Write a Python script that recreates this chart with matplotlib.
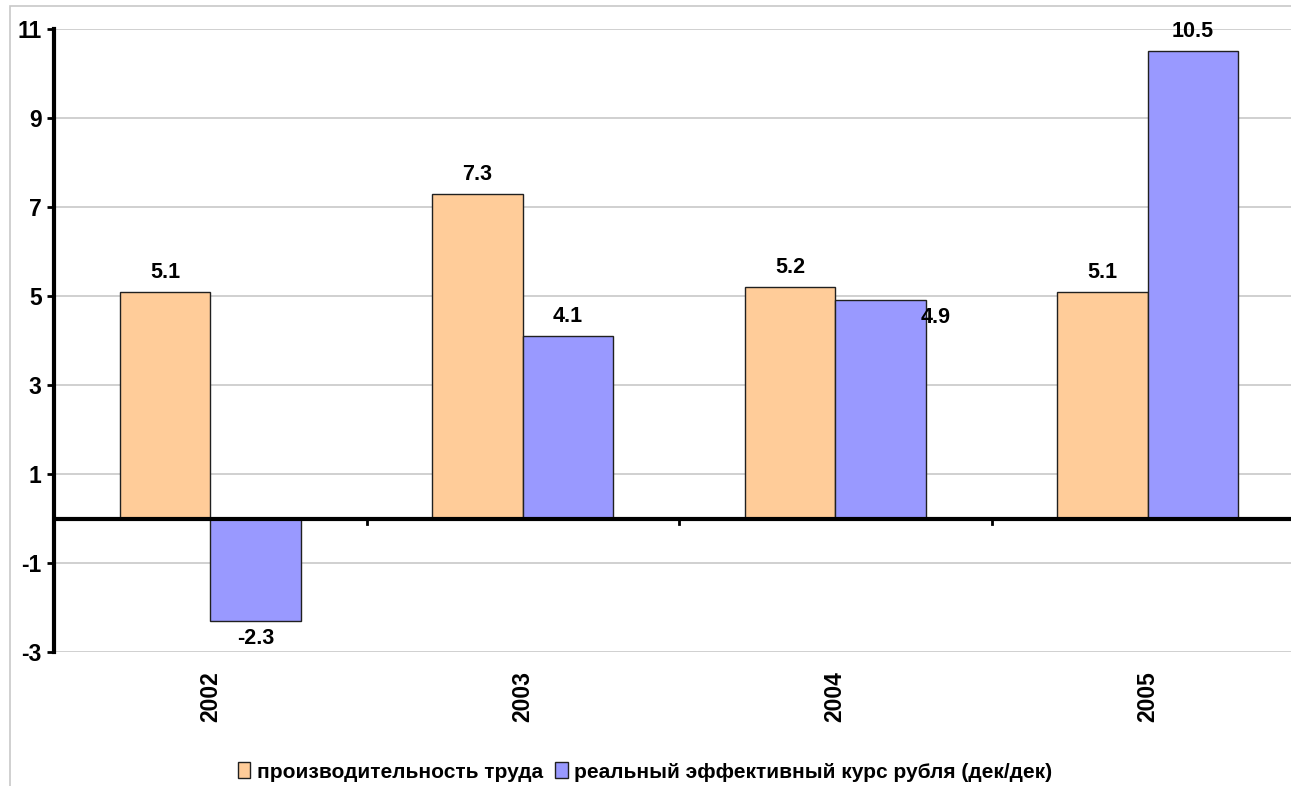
import numpy as np
import matplotlib
matplotlib.use("Agg")
import matplotlib.pyplot as plt
import matplotlib.patches as patches

plt.rcParams['font.family'] = ['Liberation Sans', 'DejaVu Sans']

years = ["2002", "2003", "2004", "2005"]
productivity = [5.1, 7.3, 5.2, 5.1]
reer = [-2.3, 4.1, 4.9, 10.5]
series_names = ["производительность труда", "реальный эффективный курс рубля (дек/дек)"]
yticks = [-3, -1, 1, 3, 5, 7, 9, 11]

fig = plt.figure(figsize=(12.91, 7.86), dpi=100)
# light frame around the chart area
fig.patches.append(patches.Rectangle((10 / 1291, -0.1), 1.1, 1 - 6 / 786 + 0.1,
                                     transform=fig.transFigure, fill=False,
                                     edgecolor='#c8c8c8', linewidth=1.2))

# plot area: x 54..1304 px, y 29..652 px
ax = fig.add_axes([54 / 1291, 1 - 652 / 786, 1250 / 1291, 623 / 786])

x = np.arange(len(years))
w = 0.29
b1 = ax.bar(x - w / 2, productivity, w, color='#FFCC99', edgecolor='#202020', linewidth=1, zorder=3)
b2 = ax.bar(x + w / 2, reer, w, color='#9999FF', edgecolor='#202020', linewidth=1, zorder=3)

ax.set_xlim(-0.5, 3.5)
ax.set_ylim(-3, 11)
ax.set_yticks(yticks)
ax.set_yticklabels([str(t) for t in yticks], fontsize=16.5, fontweight='bold')
ax.yaxis.grid(True, color='#c8c8c8', linewidth=1.2, zorder=0)
ax.set_axisbelow(True)

for s in ['top', 'right', 'bottom']:
    ax.spines[s].set_visible(False)
ax.spines['left'].set_linewidth(3)
ax.tick_params(axis='y', length=5, width=2, pad=4)

# zero line with small ticks between categories
ax.axhline(0, color='black', linewidth=3, zorder=4)
for xb in [0.5, 1.5, 2.5]:
    ax.plot([xb, xb], [0, -0.12], color='black', linewidth=2, zorder=4)

ax.set_xticks(x)
ax.set_xticklabels(years, rotation=90, fontsize=16.5, fontweight='bold')
ax.tick_params(axis='x', length=0, pad=14)

# value labels
fs = 15.5
for xi, v in zip(x, productivity):
    ax.text(xi - w / 2, v + 0.2, f"{v:.1f}", ha='center', va='bottom',
            fontsize=fs, fontweight='bold', zorder=5)
for xi, v in zip(x, reer):
    if v < 0:
        ax.text(xi + w / 2, v - 0.15, f"{v:.1f}", ha='center', va='top',
                fontsize=fs, fontweight='bold', zorder=5)
    elif xi == 2:
        ax.text(xi + w / 2 + 0.175, v - 0.15, f"{v:.1f}", ha='center', va='top',
                fontsize=fs, fontweight='bold', zorder=5)
    else:
        ax.text(xi + w / 2, v + 0.2, f"{v:.1f}", ha='center', va='bottom',
                fontsize=fs, fontweight='bold', zorder=5)

leg = fig.legend([b1, b2], series_names, loc='center', bbox_to_anchor=(645 / 1291, 1 - 772 / 786),
                 ncol=2, frameon=False, handlelength=0.6, handleheight=0.8,
                 handletextpad=0.3, columnspacing=0.6, prop={'weight': 'bold', 'size': 15})

fig.savefig("out.png", dpi=100)
